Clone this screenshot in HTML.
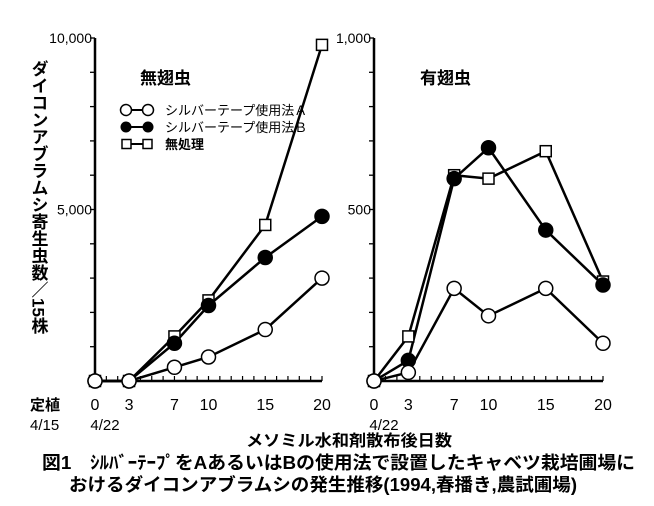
<!DOCTYPE html>
<html><head><meta charset="utf-8"><style>
body{margin:0;background:#fff;width:654px;height:501px;overflow:hidden}
svg{font-family:"Liberation Sans","Noto Sans CJK JP",sans-serif}
</style></head><body>
<svg id="c" width="654" height="501"></svg>
<script>
const days=[0,3,7,10,15,20];
const leftA=[0,0,400,700,1500,3000];
const leftB=[0,0,1100,2200,3600,4800];
const leftN=[0,0,1300,2350,4550,9800];
const rightA=[0,25,270,190,270,110];
const rightB=[0,60,590,680,440,280];
const rightN=[0,130,600,590,670,290];
const xTicks=[0,3,7,10,15,20];
const leftYLabels=["5,000","10,000"];
const rightYLabels=["500","1,000"];
const NS="http://www.w3.org/2000/svg";
const svg=document.getElementById('c');
function mk(t,a,p){const e=document.createElementNS(NS,t);for(const k in a)e.setAttribute(k,a[k]);(p||svg).appendChild(e);return e;}
function panel(x0,x1,yMax,labels,series,name,title,tx){
  const y0=381,yT=38;
  const sx=d=>x0+(x1-x0)*d/20, sy=v=>y0-(y0-yT)*v/yMax;
  const g=mk('g',{});
  
  
  mk('line',{x1:x0,y1:y0,x2:x0,y2:yT,stroke:'#000','stroke-width':2.5},g);
  mk('line',{x1:x0,y1:y0,x2:sx(20),y2:y0,stroke:'#000','stroke-width':2.5},g);
  for(let i=1;i<=10;i++){mk('line',{x1:x0-5,y1:sy(yMax*i/10),x2:x0,y2:sy(yMax*i/10),stroke:'#000','stroke-width':1.3},g);}
  for(let d=1;d<=20;d++){mk('line',{x1:sx(d),y1:y0,x2:sx(d),y2:y0-5,stroke:'#000','stroke-width':1.2},g);}
  labels.forEach((l,i)=>{const t=mk('text',{x:x0-3,y:sy(yMax*(i+1)/2)+5,'font-size':14,'text-anchor':'end'},g);t.textContent=l;});
  xTicks.forEach(d=>{const t=mk('text',{x:sx(d),y:410,'font-size':16,'text-anchor':'middle'},g);t.textContent=d;});
  const tt=mk('text',{x:tx,y:84,'font-size':17,'font-weight':'bold'},g);tt.textContent=title;
  series.forEach(s=>{
    const pts=days.map((d,i)=>sx(d)+','+sy(s.v[i])).join(' ');
    mk('polyline',{points:pts,fill:'none',stroke:'#000','stroke-width':2.5},g);
  });
  series.forEach(s=>{days.forEach((d,i)=>{
    let m;
    if(s.k==='N') m=mk('rect',{x:sx(d)-5.5,y:sy(s.v[i])-5.5,width:11,height:11,fill:'#fff',stroke:'#000','stroke-width':1.5},g);
    else m=mk('circle',{cx:sx(d),cy:sy(s.v[i]),r:7,fill:s.k==='A'?'#fff':'#000',stroke:'#000','stroke-width':1.5},g);
    
    
  });});
}
panel(95,322,10000,leftYLabels,[{k:'N',v:leftN},{k:'B',v:leftB},{k:'A',v:leftA}],'left-panel-wingless','無翅虫',140);
panel(374,603,1000,rightYLabels,[{k:'N',v:rightN},{k:'B',v:rightB},{k:'A',v:rightA}],'right-panel-winged','有翅虫',420);
</script>
<svg width="654" height="501" style="position:absolute;left:0;top:0">
<g font-size="13" style="font-family:'Liberation Sans','Noto Sans CJK JP',sans-serif">
<line x1="126" y1="110" x2="148" y2="110" stroke="#000" stroke-width="2"/><circle cx="126" cy="110" r="5.5" fill="#fff" stroke="#000" stroke-width="1.5"/><circle cx="148" cy="110" r="5.5" fill="#fff" stroke="#000" stroke-width="1.5"/>
<text x="165" y="115">シルバーテープ使用法Ａ</text>
<line x1="126" y1="127" x2="148" y2="127" stroke="#000" stroke-width="2"/><circle cx="126" cy="127" r="5.5" fill="#000"/><circle cx="148" cy="127" r="5.5" fill="#000"/>
<text x="165" y="132">シルバーテープ使用法Ｂ</text>
<line x1="127" y1="144" x2="147" y2="144" stroke="#000" stroke-width="2"/><rect x="122" y="139.5" width="9" height="9" fill="#fff" stroke="#000" stroke-width="1.5"/><rect x="143" y="139.5" width="9" height="9" fill="#fff" stroke="#000" stroke-width="1.5"/>
<text x="165" y="149" font-weight="bold">無処理</text>
</g>
<g style="font-family:'Liberation Sans','Noto Sans CJK JP',sans-serif" font-weight="bold">
<text x="38" y="60" font-size="17" style="writing-mode:vertical-rl">ダイコンアブラムシ寄生虫数／15株</text>
<text x="30" y="410" font-size="15">定植</text>
<text x="30" y="430" font-size="15" font-weight="normal">4/15</text>
<text x="105" y="430" font-size="15" font-weight="normal" text-anchor="middle">4/22</text>
<text x="384" y="430" font-size="15" font-weight="normal" text-anchor="middle">4/22</text>
<text x="246" y="446" font-size="16" textLength="206" lengthAdjust="spacingAndGlyphs">メソミル水和剤散布後日数</text>
<text x="42" y="469" font-size="18" textLength="593" lengthAdjust="spacingAndGlyphs">図1　ｼﾙﾊﾞｰﾃｰﾌﾟをAあるいはBの使用法で設置したキャベツ栽培圃場に</text>
<text x="69" y="491" font-size="18" textLength="508" lengthAdjust="spacingAndGlyphs">おけるダイコンアブラムシの発生推移(1994,春播き,農試圃場)</text>
</g>
</svg>
</body></html>
